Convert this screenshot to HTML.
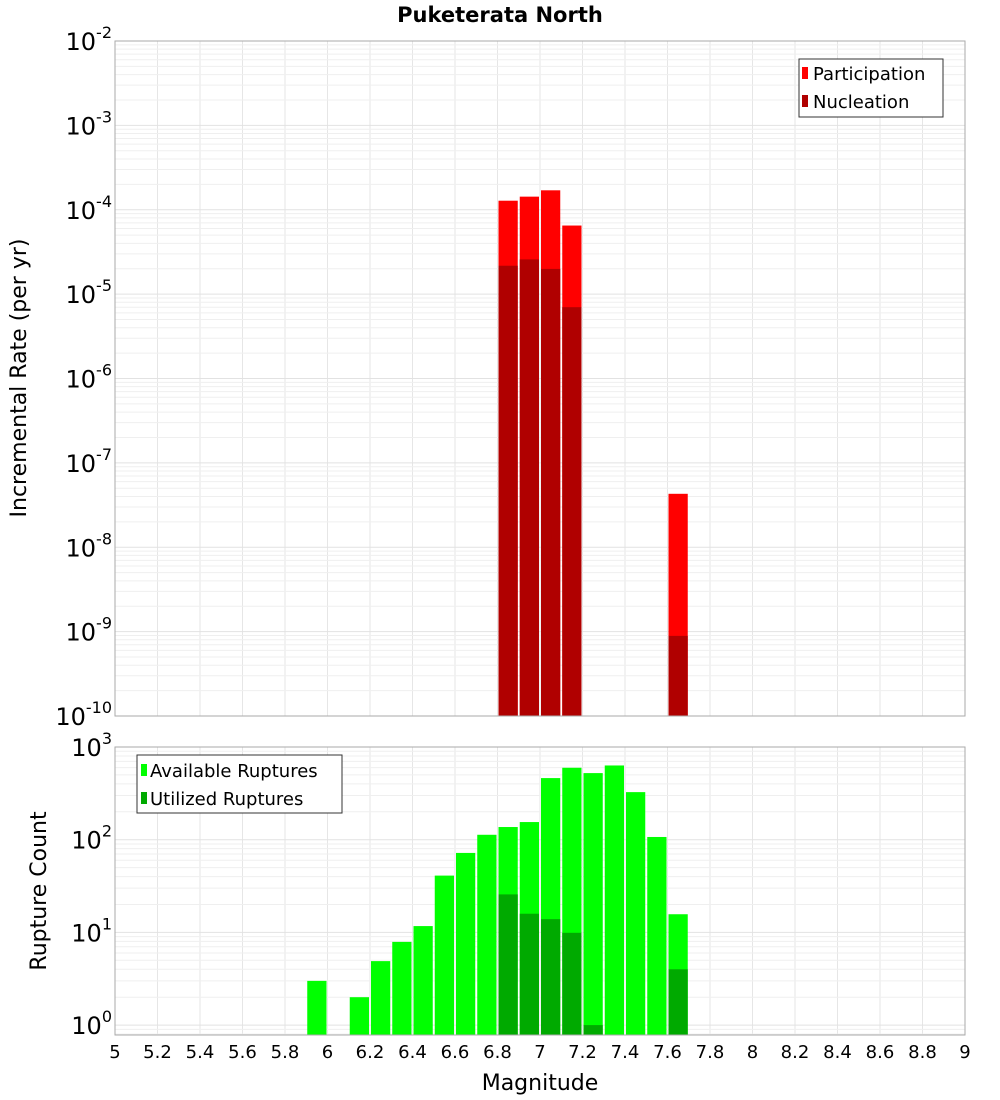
<!DOCTYPE html>
<html><head><meta charset="utf-8"><style>
body{margin:0;background:#fff;}
svg{display:block;font-family:"DejaVu Sans","Liberation Sans",sans-serif;}
</style></head><body>
<svg id="chart" width="1000" height="1100" viewBox="0 0 1000 1100" xmlns="http://www.w3.org/2000/svg">
<text x="500" y="22" text-anchor="middle" font-size="21" font-weight="bold">Puketerata North</text>
<text transform="translate(26,378) rotate(-90)" text-anchor="middle" font-size="22">Incremental Rate (per yr)</text>
<text transform="translate(46,891) rotate(-90)" text-anchor="middle" font-size="22">Rupture Count</text>
<text x="540" y="1090" text-anchor="middle" font-size="22">Magnitude</text>
<g id="grid"></g><g id="bars"></g><g id="axes"></g>
<g>
<rect x="799" y="59" width="144" height="58" fill="#fff" stroke="#333" stroke-width="1"/>
<rect x="802" y="67" width="6" height="12" fill="#ff0000"/>
<text x="813" y="80" font-size="18">Participation</text>
<rect x="802" y="95" width="6" height="12" fill="#b00000"/>
<text x="813" y="108" font-size="18">Nucleation</text>
</g>
<g>
<rect x="137" y="755" width="205" height="58" fill="#fff" stroke="#333" stroke-width="1"/>
<rect x="141" y="764" width="6" height="12" fill="#00ff00"/>
<text x="150" y="777" font-size="18">Available Ruptures</text>
<rect x="141" y="792" width="6" height="12" fill="#00aa00"/>
<text x="150" y="805" font-size="18">Utilized Ruptures</text>
</g>
</svg>
<script>
const partMags=[6.85,6.95,7.05,7.15,7.65];
const partVals=[1.28e-4,1.43e-4,1.7e-4,6.5e-5,4.3e-8];
const nuclMags=[6.85,6.95,7.05,7.15,7.65];
const nuclVals=[2.17e-5,2.58e-5,1.99e-5,7.0e-6,8.9e-10];
const availMags=[5.95,6.15,6.25,6.35,6.45,6.55,6.65,6.75,6.85,6.95,7.05,7.15,7.25,7.35,7.45,7.55,7.65];
const availVals=[3,2,4.9,7.9,11.7,41,72,113,137,155,462,597,523,632,326,107,15.7];
const utilMags=[6.85,6.95,7.05,7.15,7.25,7.65];
const utilVals=[25.7,15.9,13.9,9.9,1.0,4];
const xTicks=[5,5.2,5.4,5.6,5.8,6,6.2,6.4,6.6,6.8,7,7.2,7.4,7.6,7.8,8,8.2,8.4,8.6,8.8,9];
const topExps=[-2,-3,-4,-5,-6,-7,-8,-9,-10];
const botExps=[3,2,1,0];

const NS="http://www.w3.org/2000/svg";
const X0=115,X1=965,XMIN=5,XMAX=9;
const x=m=>X0+(m-XMIN)/(XMAX-XMIN)*(X1-X0);
const T={top:41,bot:716,lmax:-2,lmin:-10};
const B={top:747,bot:1035,lmax:3,lmin:3-(1035-747)/92.7};
const yT=v=>T.top+(T.lmax-Math.log10(v))/(T.lmax-T.lmin)*(T.bot-T.top);
const yB=v=>B.top+(B.lmax-Math.log10(v))/(B.lmax-B.lmin)*(B.bot-B.top);
function mk(tag,attrs,parent){const e=document.createElementNS(NS,tag);for(const k in attrs)e.setAttribute(k,attrs[k]);parent.appendChild(e);return e;}
const grid=document.getElementById('grid'),bars=document.getElementById('bars'),axes=document.getElementById('axes');

function panelGrid(P,yf,name){
  mk('rect',{x:X0,y:P.top,width:X1-X0,height:P.bot-P.top,fill:'#fff'},grid);
  for(const t of xTicks){const l=mk('line',{x1:x(t),x2:x(t),y1:P.top,y2:P.bot,stroke:'#e6e6e6','stroke-width':1},grid);}
  for(let e=Math.floor(P.lmin);e<=P.lmax;e++){for(let k=1;k<10;k++){const v=k*Math.pow(10,e);const lv=Math.log10(v);if(lv<P.lmin||lv>P.lmax)continue;const yy=yf(v);
    mk('line',{x1:X0,x2:X1,y1:yy,y2:yy,stroke:k==1?'#e2e2e2':'#efefef','stroke-width':1},grid);}}
}
panelGrid(T,yT,'top');panelGrid(B,yB,'bottom');

function drawBars(mags,vals,yf,P,color,name){
  mags.forEach((m,i)=>{
    const yy=yf(vals[i]);
    const r=mk('rect',{x:x(m-0.05)+1,y:yy,width:x(m+0.05)-x(m-0.05)-2,height:P.bot-yy,fill:color},bars);
    
    
  });
}
drawBars(partMags,partVals,yT,T,'#ff0000','participation-bar');
drawBars(nuclMags,nuclVals,yT,T,'#b00000','nucleation-bar');
drawBars(availMags,availVals,yB,B,'#00ff00','available-bar');
drawBars(utilMags,utilVals,yB,B,'#00aa00','utilized-bar');

mk('rect',{x:X0,y:T.top,width:X1-X0,height:T.bot-T.top,fill:'none',stroke:'#aaa','stroke-width':1},axes);
mk('rect',{x:X0,y:B.top,width:X1-X0,height:B.bot-B.top,fill:'none',stroke:'#aaa','stroke-width':1},axes);

function yLabels(exps,yf,name){
  exps.forEach(e=>{
    const yy=yf(Math.pow(10,e));
    const t=mk('text',{x:X0-3,y:yy+9,'text-anchor':'end','font-size':24},axes);
    
    
    const a=mk('tspan',{},t);a.textContent='10';
    const b=mk('tspan',{dy:-12,'font-size':16},t);b.textContent=String(e);
  });
}
yLabels(topExps,yT,'top-y');
yLabels(botExps,yB,'bottom-y');
xTicks.forEach(t=>{
  const e=mk('text',{x:x(t),y:1058,'text-anchor':'middle','font-size':18},axes);
  
  
  e.textContent=String(t);
});
</script>
</body></html>
